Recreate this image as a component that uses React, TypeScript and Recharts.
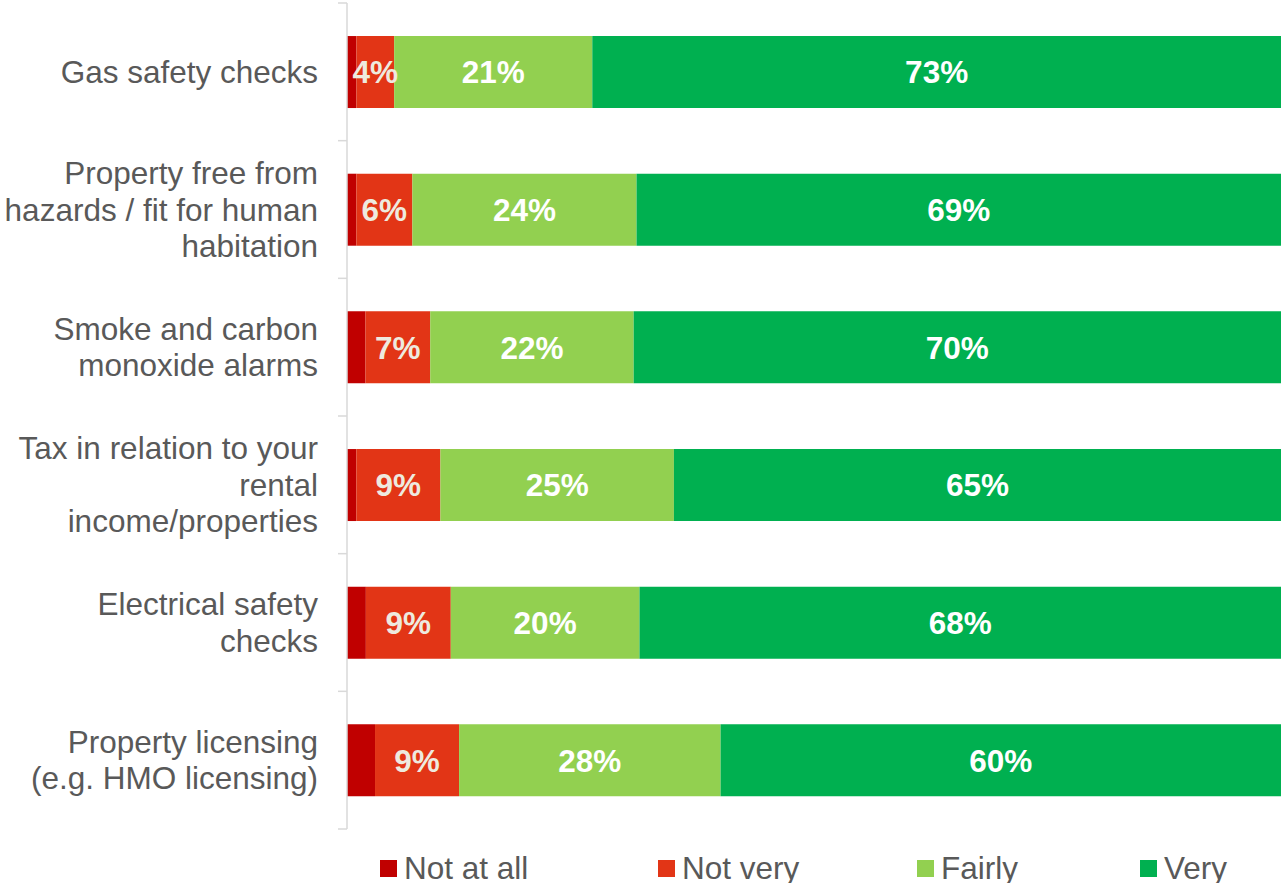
import React from "react";
import { BarChart, Bar, XAxis, YAxis, Legend, LabelList } from "recharts";

const categories = [
  "Gas safety checks",
  "Property free from hazards / fit for human habitation",
  "Smoke and carbon monoxide alarms",
  "Tax in relation to your rental income/properties",
  "Electrical safety checks",
  "Property licensing (e.g. HMO licensing)",
];

// wrapped tick text as it appears on the axis
const tickLines = [
  ["Gas safety checks"],
  ["Property free from", "hazards / fit for human", "habitation"],
  ["Smoke and carbon", "monoxide alarms"],
  ["Tax in relation to your", "rental", "income/properties"],
  ["Electrical safety", "checks"],
  ["Property licensing", "(e.g. HMO licensing)"],
];

const notAtAll = [1, 1, 2, 1, 2, 3];
const notVery = [4, 6, 7, 9, 9, 9];
const fairly = [21, 24, 22, 25, 20, 28];
const very = [73, 69, 70, 65, 68, 60];

const seriesNames = ["Not at all", "Not very", "Fairly", "Very"];
const seriesColors = ["#C00000", "#E23516", "#92D050", "#00B050"];

const data = categories.map((name, i) => ({
  name,
  notAtAll: notAtAll[i],
  notVery: notVery[i],
  fairly: fairly[i],
  very: very[i],
}));

const WIDTH = 1281;
const HEIGHT = 883;
const AXIS_X = 347;
const TOP = 3;
const BOTTOM = 54;
const BAND = (HEIGHT - TOP - BOTTOM) / categories.length;
const FONT = '"Liberation Sans", Arial, sans-serif';
const FONT_SIZE = 31.5;
const LINE_H = 36.5;

const CategoryTick = (props: any) => {
  const { x, y, payload } = props;
  const idx = categories.indexOf(payload.value);
  const lines = tickLines[idx] || [payload.value];
  const first = -((lines.length - 1) / 2) * LINE_H;
  return (
    <g>
      {idx === 0 && (
        <line x1={AXIS_X - 9} x2={AXIS_X} y1={y - BAND / 2} y2={y - BAND / 2} stroke="#D9D9D9" strokeWidth={1.5} />
      )}
      <line x1={AXIS_X - 9} x2={AXIS_X} y1={y + BAND / 2} y2={y + BAND / 2} stroke="#D9D9D9" strokeWidth={1.5} />
      <text x={x} y={y} textAnchor="end" fill="#595959" fontSize={FONT_SIZE} fontFamily={FONT}>
        {lines.map((l, i) => (
          <tspan key={i} x={x} y={y + first + i * LINE_H} dy="0.35em">
            {l}
          </tspan>
        ))}
      </text>
    </g>
  );
};

const renderLegend = () => {
  const lefts = [380, 658, 917, 1140];
  return (
    <div style={{ position: "relative", width: WIDTH, height: 40 }}>
      {seriesNames.map((n, i) => (
        <div
          key={n}
          style={{
            position: "absolute",
            left: lefts[i],
            top: 0,
            height: 40,
            display: "flex",
            alignItems: "center",
            fontFamily: FONT,
            fontSize: FONT_SIZE,
            color: "#595959",
            whiteSpace: "nowrap",
          }}
        >
          <span style={{ display: "inline-block", width: 17, height: 17, background: seriesColors[i], marginRight: 7 }} />
          {n}
        </div>
      ))}
    </div>
  );
};

const labelStyle = { fontFamily: FONT, fontSize: FONT_SIZE, fontWeight: 700 };

export default function App() {
  return (
    <div style={{ width: WIDTH, height: HEIGHT, overflow: "hidden" }}>
      <style>{`body{margin:0}`}</style>
      <BarChart
        width={WIDTH}
        height={HEIGHT}
        data={data}
        layout="vertical"
        stackOffset="expand"
        barCategoryGap="24%"
        margin={{ top: TOP, right: 0, left: 0, bottom: BOTTOM }}
      >
        <XAxis type="number" hide />
        <YAxis
          type="category"
          dataKey="name"
          width={AXIS_X}
          axisLine={{ stroke: "#D9D9D9", strokeWidth: 1.5 }}
          tickLine={false}
          tickSize={0}
          tickMargin={29}
          tick={<CategoryTick />}
          interval={0}
        />
        <Legend
          layout="horizontal"
          verticalAlign="middle"
          align="center"
          content={renderLegend}
          wrapperStyle={{ top: 848, left: 0, width: WIDTH }}
        />
        <Bar dataKey="notAtAll" name="Not at all" stackId="a" fill={seriesColors[0]} isAnimationActive={false} />
        <Bar dataKey="notVery" name="Not very" stackId="a" fill={seriesColors[1]} isAnimationActive={false}>
          <LabelList dataKey="notVery" position="center" formatter={(v: any) => `${v}%`} fill="#EEEADF" style={labelStyle} />
        </Bar>
        <Bar dataKey="fairly" name="Fairly" stackId="a" fill={seriesColors[2]} isAnimationActive={false}>
          <LabelList dataKey="fairly" position="center" formatter={(v: any) => `${v}%`} fill="#FFFFFF" style={labelStyle} />
        </Bar>
        <Bar dataKey="very" name="Very" stackId="a" fill={seriesColors[3]} isAnimationActive={false}>
          <LabelList dataKey="very" position="center" formatter={(v: any) => `${v}%`} fill="#FFFFFF" style={labelStyle} />
        </Bar>
      </BarChart>
    </div>
  );
}
